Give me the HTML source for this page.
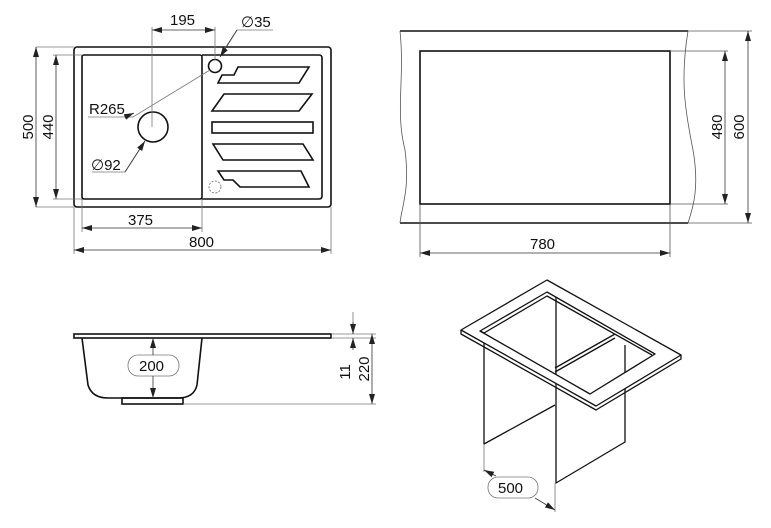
<!DOCTYPE html>
<html><head><meta charset="utf-8"><style>
html,body{margin:0;padding:0;background:#fff}
svg{display:block}
text{font-family:"Liberation Sans",sans-serif;font-size:15px;fill:#111}
</style></head><body>
<svg width="771" height="528" viewBox="0 0 771 528" xmlns="http://www.w3.org/2000/svg">
<defs>
<marker id="a" viewBox="0 0 10 6" refX="10" refY="3" markerWidth="10" markerHeight="6" orient="auto-start-reverse" markerUnits="userSpaceOnUse"><path d="M0,0 L10,3 L0,6 z" fill="#222"/></marker>
</defs>
<g fill="none" stroke="#111" stroke-width="1.6">
<rect x="74" y="47" width="257" height="160" rx="3"/>
<rect x="82" y="55" width="120" height="144" rx="2"/>
<path d="M202,55 H319 Q322,55 322,58 V196 Q322,199 319,199 H202"/>
<circle cx="153" cy="127" r="15"/>
<circle cx="215" cy="66" r="6.5"/>
<path d="M238,67 H309 L299,83 H218 L222,75 H234 Z"/>
<path d="M224,94 H312 L299,111 H212 Z"/>
<rect x="212" y="122" width="101" height="11"/>
<path d="M213,144 H303 L313,160 H223 Z"/>
<path d="M218,171 H301 L309,187 H240 L233,180 H224 Z"/>
</g>
<circle cx="215" cy="187" r="6" fill="none" stroke="#666" stroke-width="0.8" stroke-dasharray="2,1.5"/>
<g fill="none" stroke="#777" stroke-width="0.8">
<line x1="152" y1="27" x2="152" y2="127"/>
<line x1="215" y1="27" x2="215" y2="60"/>
<line x1="36" y1="47" x2="74" y2="47"/><line x1="36" y1="207" x2="74" y2="207"/>
<line x1="53" y1="55" x2="82" y2="55"/><line x1="53" y1="199" x2="82" y2="199"/>
<line x1="82" y1="199" x2="82" y2="232"/><line x1="202" y1="199" x2="202" y2="232"/>
<line x1="74" y1="207" x2="74" y2="254"/><line x1="331" y1="207" x2="331" y2="254"/>
<polyline points="273,30 237,30 220,56"/>
<polyline points="88,117 133,117 210,70"/>
<polyline points="92,172 125,172 145,141"/>
</g>
<g stroke="#333" stroke-width="0.8" marker-start="url(#a)" marker-end="url(#a)">
<line x1="152" y1="30" x2="215" y2="30"/>
<line x1="36" y1="47" x2="36" y2="207"/>
<line x1="56" y1="55" x2="56" y2="199"/>
<line x1="82" y1="228" x2="202" y2="228"/>
<line x1="74" y1="250" x2="331" y2="250"/>
</g>
<g stroke="#333" stroke-width="0.8" marker-end="url(#a)">
<line x1="237" y1="30" x2="220" y2="57"/>
<line x1="125" y1="117" x2="134" y2="113"/>
<line x1="125" y1="172" x2="145" y2="141"/>
</g>
<text x="170" y="25">195</text>
<text x="241" y="27">∅35</text>
<text x="89" y="114">R265</text>
<text x="91" y="170">∅92</text>
<text x="128" y="225">375</text>
<text x="189" y="247">800</text>
<text transform="translate(33,127) rotate(-90)" text-anchor="middle">500</text>
<text transform="translate(53,127) rotate(-90)" text-anchor="middle">440</text>

<g fill="none" stroke="#111" stroke-width="1.6">
<line x1="400" y1="31" x2="688" y2="31"/>
<line x1="400" y1="223" x2="688" y2="223"/>
<rect x="420" y="51" width="250" height="153"/>
</g>
<g fill="none" stroke="#555" stroke-width="0.8">
<path d="M400,31 C405,80 395,110 405,150 C410,190 402,205 400,223"/>
<path d="M688,31 C680,80 685,110 693,150 C700,190 692,210 688,223"/>
<line x1="670" y1="51" x2="728" y2="51"/><line x1="670" y1="204" x2="728" y2="204"/>
<line x1="688" y1="31" x2="752" y2="31"/><line x1="688" y1="223" x2="752" y2="223"/>
<line x1="420" y1="204" x2="420" y2="257"/><line x1="670" y1="204" x2="670" y2="257"/>
</g>
<g stroke="#333" stroke-width="0.8" marker-start="url(#a)" marker-end="url(#a)">
<line x1="725" y1="51" x2="725" y2="204"/>
<line x1="748" y1="31" x2="748" y2="223"/>
<line x1="420" y1="253" x2="670" y2="253"/>
</g>
<text transform="translate(722,127) rotate(-90)" text-anchor="middle">480</text>
<text transform="translate(744,127) rotate(-90)" text-anchor="middle">600</text>
<text x="530" y="249">780</text>

<g fill="none" stroke="#111" stroke-width="1.6">
<rect x="74" y="334" width="257" height="4"/>
<path d="M82,338 L88,385 Q92,398 108,398 H178 Q194,398 197,385 L202,338"/>
<rect x="122" y="398" width="61" height="6"/>
</g>
<g fill="none" stroke="#777" stroke-width="0.8">
<line x1="331" y1="338" x2="376" y2="338"/><line x1="331" y1="334" x2="376" y2="334"/>
<line x1="183" y1="404" x2="376" y2="404"/>
<line x1="353" y1="312" x2="353" y2="334"/>
<rect x="128" y="355" width="51" height="21" rx="10" fill="#fff"/>
</g>
<g stroke="#333" stroke-width="0.8">
<line x1="153" y1="338" x2="153" y2="355" marker-start="url(#a)"/>
<line x1="153" y1="376" x2="153" y2="398" marker-end="url(#a)"/>
<line x1="353" y1="322" x2="353" y2="334" marker-end="url(#a)"/>
<line x1="353" y1="350" x2="353" y2="338" marker-end="url(#a)"/>
<line x1="372" y1="334" x2="372" y2="404" marker-start="url(#a)" marker-end="url(#a)"/>
</g>
<text x="139" y="371">200</text>
<text transform="translate(350,372) rotate(-90)" text-anchor="middle">11</text>
<text transform="translate(369,369) rotate(-90)" text-anchor="middle">220</text>

<g fill="none" stroke="#111" stroke-width="1.3" stroke-linejoin="round">
<path d="M484,340 V444 L555,405"/>
<path d="M556,296 V483 L625,442 V345"/>
</g>
<g fill="#fff" stroke="#111" stroke-width="1.3" stroke-linejoin="round">
<path d="M547,280 L461,330 L596,406 L681,355 Z M547,292 L480,331 L590,394 L655,354 Z" fill-rule="evenodd"/>
</g>
<g fill="none" stroke="#111" stroke-width="1.3" stroke-linejoin="round">
<path d="M461,330 V334 L596,410 L681,359 V355"/>
<path d="M480,331 L484,333 L547,296 L652,355"/>
<path d="M555,368 L615,334 M555,372 L615,338"/>
</g>
<g fill="none" stroke="#777" stroke-width="0.8">
<line x1="484" y1="444" x2="484" y2="472"/>
<line x1="555" y1="483" x2="555" y2="512"/>
<rect x="488" y="477" width="50" height="21" rx="10" fill="#fff"/>
</g>
<g stroke="#333" stroke-width="0.8">
<line x1="496" y1="476" x2="484" y2="470" marker-end="url(#a)"/>
<line x1="535" y1="498" x2="555" y2="510" marker-end="url(#a)"/>
</g>
<text x="498" y="493">500</text>
</svg>
</body></html>
